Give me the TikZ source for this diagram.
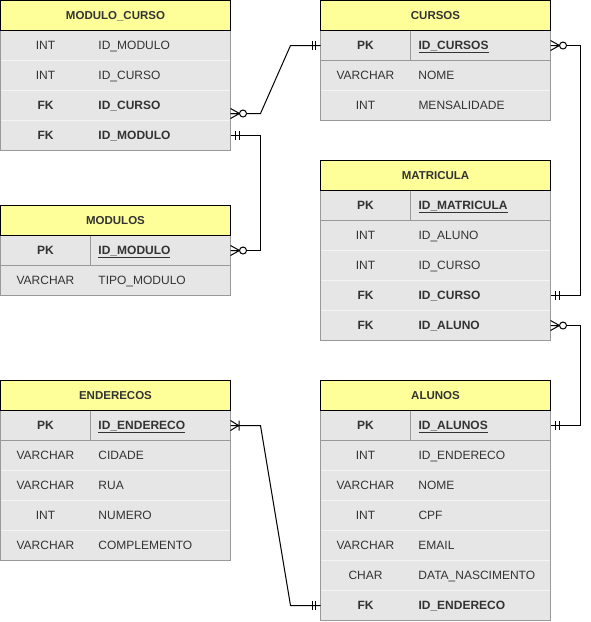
\documentclass[tikz,border=0pt]{standalone}
\usepackage{fontspec}
\setmainfont{Liberation Sans}
\definecolor{hdrfill}{HTML}{FFFF99}
\definecolor{rowfill}{HTML}{E6E6E6}
\definecolor{bodyline}{HTML}{999999}
\definecolor{sepcol}{HTML}{F4F4F4}
\definecolor{txt}{HTML}{333333}
\newcommand\rt[2]{\makebox[90pt][c]{#1}\hspace{8pt}#2}
\newcommand\rpk[2]{\makebox[90pt][c]{\bfseries #1}\hspace{8pt}{\bfseries\underline{#2}}}
\newcommand\rfk[2]{\makebox[90pt][c]{\bfseries #1}\hspace{8pt}{\bfseries #2}}
\tikzset{
  hdr/.style={anchor=north west, draw=black, line width=1pt, outer sep=0pt, fill=hdrfill, minimum width=230pt, minimum height=30pt, inner sep=0pt, text height=9.4pt, text depth=1.2pt, text=txt, font=\bfseries\fontsize{11.5}{14}\selectfont},
  erow/.style={anchor=north west, fill=rowfill, outer sep=0pt, minimum width=230pt, minimum height=30pt, inner sep=0pt, text width=230pt, text height=10pt, text depth=1.4pt, align=left, text=txt, font=\fontsize{12}{14}\selectfont},
  body/.style={draw=bodyline, line width=1pt},
  sep/.style={draw=sepcol, line width=1pt},
  pksep/.style={draw=bodyline, line width=1pt},
  conn/.style={draw=black, line width=1pt},
  crowzero/.pic={\draw[conn] (0,-5) -- (9,0) -- (0,5) (0,0) -- (9,0); \draw[conn,fill=white] (12.5,0) circle[radius=3.5pt];},
  dbar/.pic={\draw[conn] (5,-4.5) -- (5,4.5) (8.5,-4.5) -- (8.5,4.5);},
  crowone/.pic={\draw[conn] (0,-5) -- (8,0) -- (0,5) (8.5,-5) -- (8.5,5);},
}
\begin{document}
\begin{tikzpicture}[x=1pt,y=-1pt]
\useasboundingbox (0,0) rectangle (591,622);
% ---------- MODULO_CURSO ----------
\node[hdr] (mch) at (0.5,0.5) {MODULO\_CURSO};
\node[erow] (mc1) at (mch.south west) {\rt{INT}{ID\_MODULO}};
\node[erow] (mc2) at (mc1.south west) {\rt{INT}{ID\_CURSO}};
\node[erow] (mc3) at (mc2.south west) {\rfk{FK}{ID\_CURSO}};
\node[erow] (mc4) at (mc3.south west) {\rfk{FK}{ID\_MODULO}};
\draw[sep] (mc1.south west) -- (mc1.south east) (mc2.south west) -- (mc2.south east) (mc3.south west) -- (mc3.south east);
\draw[body] (mc1.north west) rectangle (mc4.south east);
\node[hdr] at (mch.north west) {MODULO\_CURSO};
% ---------- CURSOS ----------
\node[hdr] (cuh) at (320.5,0.5) {CURSOS};
\node[erow] (cu1) at (cuh.south west) {\rpk{PK}{ID\_CURSOS}};
\node[erow] (cu2) at (cu1.south west) {\rt{VARCHAR}{NOME}};
\node[erow] (cu3) at (cu2.south west) {\rt{INT}{MENSALIDADE}};
\draw[sep] (cu2.south west) -- (cu2.south east);
\draw[pksep] (cu1.south west) -- (cu1.south east) ([xshift=90pt]cu1.north west) -- ([xshift=90pt]cu1.south west);
\draw[body] (cu1.north west) rectangle (cu3.south east);
\node[hdr] at (cuh.north west) {CURSOS};
% ---------- MODULOS ----------
\node[hdr] (moh) at (0.5,205.5) {MODULOS};
\node[erow] (mo1) at (moh.south west) {\rpk{PK}{ID\_MODULO}};
\node[erow] (mo2) at (mo1.south west) {\rt{VARCHAR}{TIPO\_MODULO}};
\draw[pksep] (mo1.south west) -- (mo1.south east) ([xshift=90pt]mo1.north west) -- ([xshift=90pt]mo1.south west);
\draw[body] (mo1.north west) rectangle (mo2.south east);
\node[hdr] at (moh.north west) {MODULOS};
% ---------- MATRICULA ----------
\node[hdr] (mah) at (320.5,160.5) {MATRICULA};
\node[erow] (ma1) at (mah.south west) {\rpk{PK}{ID\_MATRICULA}};
\node[erow] (ma2) at (ma1.south west) {\rt{INT}{ID\_ALUNO}};
\node[erow] (ma3) at (ma2.south west) {\rt{INT}{ID\_CURSO}};
\node[erow] (ma4) at (ma3.south west) {\rfk{FK}{ID\_CURSO}};
\node[erow] (ma5) at (ma4.south west) {\rfk{FK}{ID\_ALUNO}};
\draw[sep] (ma2.south west) -- (ma2.south east) (ma3.south west) -- (ma3.south east) (ma4.south west) -- (ma4.south east);
\draw[pksep] (ma1.south west) -- (ma1.south east) ([xshift=90pt]ma1.north west) -- ([xshift=90pt]ma1.south west);
\draw[body] (ma1.north west) rectangle (ma5.south east);
\node[hdr] at (mah.north west) {MATRICULA};
% ---------- ENDERECOS ----------
\node[hdr] (enh) at (0.5,380.5) {ENDERECOS};
\node[erow] (en1) at (enh.south west) {\rpk{PK}{ID\_ENDERECO}};
\node[erow] (en2) at (en1.south west) {\rt{VARCHAR}{CIDADE}};
\node[erow] (en3) at (en2.south west) {\rt{VARCHAR}{RUA}};
\node[erow] (en4) at (en3.south west) {\rt{INT}{NUMERO}};
\node[erow] (en5) at (en4.south west) {\rt{VARCHAR}{COMPLEMENTO}};
\draw[sep] (en2.south west) -- (en2.south east) (en3.south west) -- (en3.south east) (en4.south west) -- (en4.south east);
\draw[pksep] (en1.south west) -- (en1.south east) ([xshift=90pt]en1.north west) -- ([xshift=90pt]en1.south west);
\draw[body] (en1.north west) rectangle (en5.south east);
\node[hdr] at (enh.north west) {ENDERECOS};
% ---------- ALUNOS ----------
\node[hdr] (alh) at (320.5,380.5) {ALUNOS};
\node[erow] (al1) at (alh.south west) {\rpk{PK}{ID\_ALUNOS}};
\node[erow] (al2) at (al1.south west) {\rt{INT}{ID\_ENDERECO}};
\node[erow] (al3) at (al2.south west) {\rt{VARCHAR}{NOME}};
\node[erow] (al4) at (al3.south west) {\rt{INT}{CPF}};
\node[erow] (al5) at (al4.south west) {\rt{VARCHAR}{EMAIL}};
\node[erow] (al6) at (al5.south west) {\rt{CHAR}{DATA\_NASCIMENTO}};
\node[erow] (al7) at (al6.south west) {\rfk{FK}{ID\_ENDERECO}};
\draw[sep] (al2.south west) -- (al2.south east) (al3.south west) -- (al3.south east) (al4.south west) -- (al4.south east) (al5.south west) -- (al5.south east) (al6.south west) -- (al6.south east);
\draw[pksep] (al1.south west) -- (al1.south east) ([xshift=90pt]al1.north west) -- ([xshift=90pt]al1.south west);
\draw[body] (al1.north west) rectangle (al7.south east);
\node[hdr] at (alh.north west) {ALUNOS};
% ---------- connectors ----------
\draw[conn] ([yshift=-8pt]mc3.east) -- ++(30,0) -- ([xshift=-30pt]cu1.west) -- (cu1.west);
\draw[conn] (mc4.east) -- ++(30,0) |- (mo1.east);
\draw[conn] (cu1.east) -- ++(30,0) |- (ma4.east);
\draw[conn] (ma5.east) -- ++(30,0) |- (al1.east);
\draw[conn] (en1.east) -- ++(30,0) -- ([xshift=-30pt]al7.west) -- (al7.west);
% ---------- end marks ----------
\path ([yshift=-8pt]mc3.east) pic {crowzero};
\path (cu1.west) pic[xscale=-1] {dbar};
\path (mc4.east) pic {dbar};
\path (mo1.east) pic {crowzero};
\path (cu1.east) pic {crowzero};
\path (ma4.east) pic {dbar};
\path (ma5.east) pic {crowzero};
\path (al1.east) pic {dbar};
\path (en1.east) pic {crowone};
\path (al7.west) pic[xscale=-1] {dbar};
\end{tikzpicture}
\end{document}
